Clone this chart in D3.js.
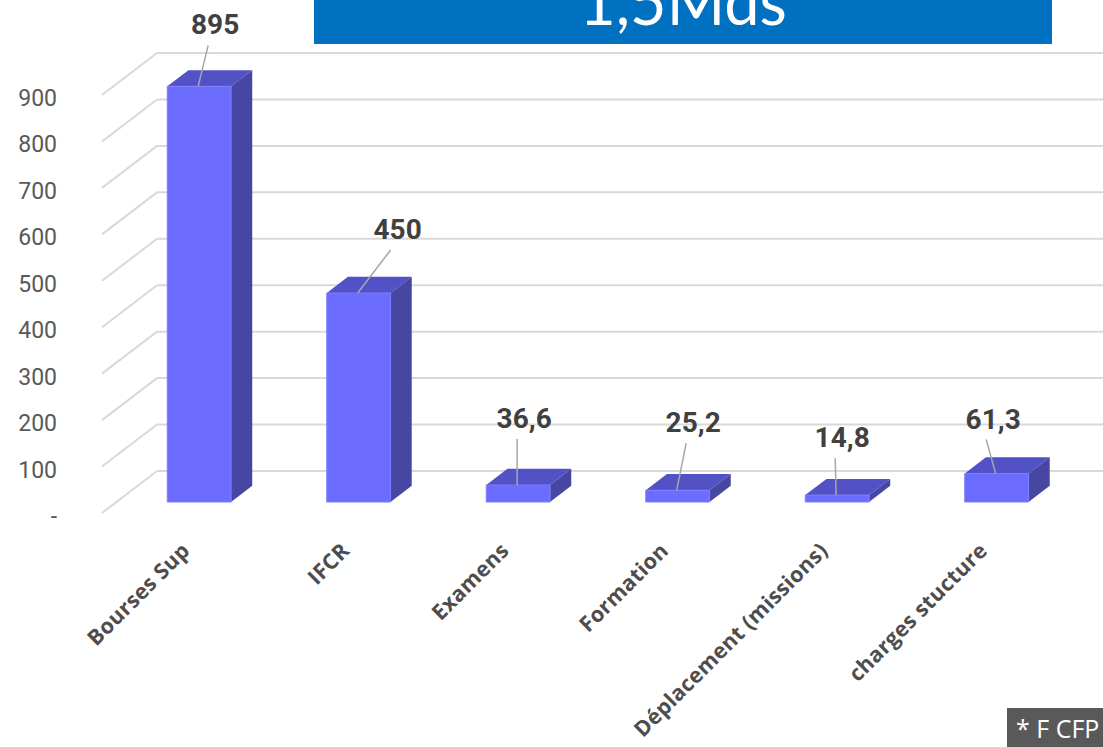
<!DOCTYPE html>
<html>
<head>
<meta charset="utf-8">
<script src="https://cdn.jsdelivr.net/npm/d3@7"></script>
<style>
  body { margin: 0; background: #fff; }
  svg { display: block; }
</style>
</head>
<body>
<div id="chart"></div>
<script>
// data
var categories = ["Bourses Sup", "IFCR", "Examens", "Formation", "Déplacement (missions)", "charges stucture"];
var values = [895, 450, 36.6, 25.2, 14.8, 61.3];
var yTicks = [0, 100, 200, 300, 400, 500, 600, 700, 800, 900];
var yTickLabels = ["-", "100", "200", "300", "400", "500", "600", "700", "800", "900"];
var title = "1,5Mds";
var note = "* F CFP";
// where each value label sits, relative to the top of its bar
var labelNudge = [[16, -52], [39, -54], [6, -57], [15.5, -58], [5, -48], [-3.5, -45]];

var W = 1103, H = 747;
var DX = 55, DY = 42;       // depth of the 3d wall
var z0 = 0.262, z1 = 0.647; // bar depth inside the wall
var wallLeft = 102;

var svg = d3.select("#chart")
  .append("svg")
  .attr("width", W)
  .attr("height", H);

var y = d3.scaleLinear().domain([0, 900]).range([513, 95]);
var x = d3.scaleBand().domain(categories).range([105, 1062]);

// project a point of the front plane to depth z
function P(px, py, z) {
  return [px + DX * z, py - DY * z];
}
function poly(pts) {
  return pts.map(function(p) { return p.join(","); }).join(" ");
}

// gridlines: diagonal on the side wall + horizontal on the back wall
var grid = svg.append("g");
grid.selectAll(".diag")
  .data(yTicks)
  .enter().append("line")
  .attr("x1", wallLeft)
  .attr("y1", function(d) { return y(d); })
  .attr("x2", wallLeft + DX)
  .attr("y2", function(d) { return y(d) - DY; })
  .style("stroke", "#d9d9d9")
  .style("stroke-width", 2);
grid.selectAll(".back")
  .data(yTicks)
  .enter().append("line")
  .attr("x1", wallLeft + DX)
  .attr("y1", function(d) { return y(d) - DY; })
  .attr("x2", W)
  .attr("y2", function(d) { return y(d) - DY; })
  .style("stroke", "#d9d9d9")
  .style("stroke-width", 2);

// y axis labels
svg.append("g").selectAll("text")
  .data(yTicks)
  .enter().append("text")
  .attr("x", 57)
  .attr("y", function(d) { return y(d) + 3; })
  .attr("dy", "0.35em")
  .attr("text-anchor", "end")
  .style("font-family", "Roboto, 'Noto Sans', sans-serif")
  .style("font-size", "23px")
  .style("fill", "#595959")
  .text(function(d, i) { return yTickLabels[i]; });

// bars
var bw = x.bandwidth() * 0.4;
var bars = svg.append("g").selectAll("g")
  .data(values)
  .enter().append("g");

function xl(i) { return x(categories[i]) + x.bandwidth() * 0.3; }

bars.append("polygon")
  .attr("points", function(d, i) {
    var a = xl(i), b = xl(i) + bw, t = y(d);
    return poly([P(a, t, z0), P(b, t, z0), P(b, t, z1), P(a, t, z1)]);
  })
  .style("fill", "#5252c6");
bars.append("polygon")
  .attr("points", function(d, i) {
    var b = xl(i) + bw, t = y(d), o = y(0);
    return poly([P(b, t, z0), P(b, t, z1), P(b, o, z1), P(b, o, z0)]);
  })
  .style("fill", "#4747a3");
bars.append("polygon")
  .attr("points", function(d, i) {
    var a = xl(i), b = xl(i) + bw, t = y(d), o = y(0);
    return poly([P(a, t, z0), P(b, t, z0), P(b, o, z0), P(a, o, z0)]);
  })
  .style("fill", "#6c6cff")
  .style("stroke", "#7c7cff")
  .style("stroke-width", 1);

// value labels with leader lines
function topCenter(d, i) {
  return P(xl(i) + bw / 2, y(d), z0);
}
bars.append("line")
  .attr("x1", function(d, i) { return topCenter(d, i)[0] + labelNudge[i][0] - 7; })
  .attr("y1", function(d, i) { return topCenter(d, i)[1] + labelNudge[i][1] + 11; })
  .attr("x2", function(d, i) { return topCenter(d, i)[0] - 1; })
  .attr("y2", function(d, i) { return topCenter(d, i)[1]; })
  .style("stroke", "#a6a6a6")
  .style("stroke-width", 1.5);
bars.append("text")
  .attr("x", function(d, i) { return topCenter(d, i)[0] + labelNudge[i][0]; })
  .attr("y", function(d, i) { return topCenter(d, i)[1] + labelNudge[i][1]; })
  .attr("text-anchor", "middle")
  .style("font-family", "Roboto, 'Noto Sans', sans-serif")
  .style("font-weight", "bold")
  .style("font-size", "28px")
  .style("fill", "#404040")
  .text(function(d) { return String(d).replace(".", ","); });

// category labels, rotated
svg.append("g").selectAll("text")
  .data(categories)
  .enter().append("text")
  .attr("transform", function(d, i) {
    var c = P(xl(i) + bw / 2, y(0), z0);
    return "translate(" + (c[0] - 8) + "," + 552 + ") rotate(-45)";
  })
  .attr("text-anchor", "end")
  .style("font-family", "'Open Sans', 'Noto Sans', sans-serif")
  .style("font-weight", "bold")
  .style("font-size", "21.5px")
  .style("letter-spacing", "0.3px")
  .style("fill", "#4d4d4d")
  .text(function(d) { return d; });

// title banner
svg.append("rect")
  .attr("x", 314)
  .attr("y", -10)
  .attr("width", 738)
  .attr("height", 54)
  .style("fill", "#0070c0");
svg.append("text")
  .attr("x", 683)
  .attr("y", 25)
  .attr("text-anchor", "middle")
  .style("font-family", "Lato, 'Open Sans', sans-serif")
  .style("font-size", "63px")
  .style("fill", "#fff")
  .text(title);

// source note
svg.append("rect")
  .attr("x", 1007)
  .attr("y", 708)
  .attr("width", 96)
  .attr("height", 39)
  .style("fill", "#595959");
svg.append("text")
  .attr("x", 1016)
  .attr("y", 738)
  .style("font-family", "'Open Sans', sans-serif")
  .style("font-size", "25px")
  .style("fill", "#fff")
  .text(note);
</script>
</body>
</html>
